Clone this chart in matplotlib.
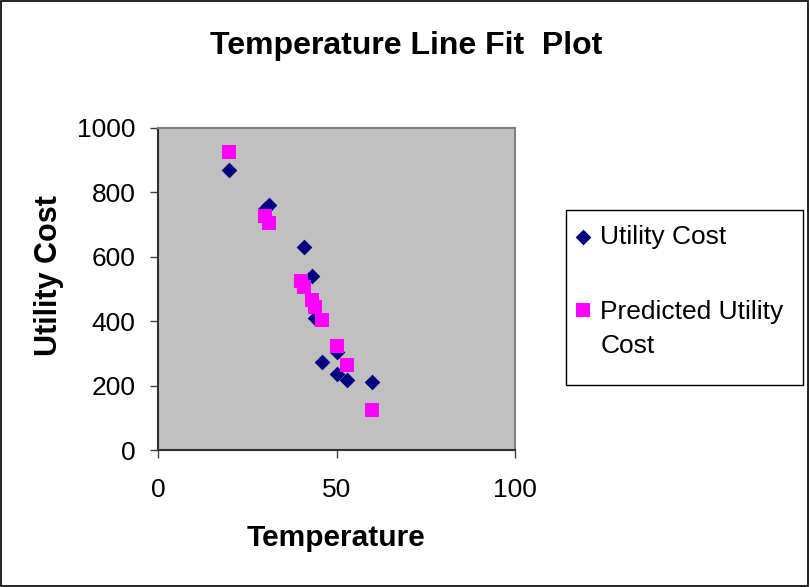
import matplotlib
matplotlib.use("Agg")
import matplotlib.pyplot as plt
from matplotlib.patches import Rectangle
from matplotlib.legend_handler import HandlerPathCollection

plt.rcParams['font.family'] = ['Liberation Sans', 'DejaVu Sans']

# Veriler
temperature = [20, 30, 31, 40, 41, 43, 44, 46, 50, 50, 53, 60]
utility_cost = [870, 750, 760, 520, 630, 541, 409, 274, 305, 238, 217, 212]
predicted_cost = [926, 726, 706, 525, 505, 465, 445, 405, 324, 324, 264, 124]

x_ticks = [0, 50, 100]
y_ticks = [0, 200, 400, 600, 800, 1000]

fig = plt.figure(figsize=(8.1, 5.87), dpi=100)
fig.patch.set_facecolor('white')
# dış çerçeve
fig.add_artist(Rectangle((0.001, 0.002), 0.997, 0.996, transform=fig.transFigure,
                         fill=False, edgecolor='black', linewidth=1.2))

ax = fig.add_axes([0.195, 0.233, 0.441, 0.549])
ax.set_facecolor('#C0C0C0')

sc1 = ax.scatter(temperature, utility_cost, marker='D', s=64, color='#000080',
                 linewidths=0, label='Utility Cost', zorder=3)
sc2 = ax.scatter(temperature, predicted_cost, marker='s', s=100, color='#FF00FF',
                 linewidths=0, label='Predicted Utility\nCost', zorder=4)

ax.set_xlim(0, 100)
ax.set_ylim(0, 1000)
ax.set_xticks(x_ticks)
ax.set_yticks(y_ticks)
ax.tick_params(axis='both', labelsize=19, length=6, width=1, color='#404040', pad=10)
ax.tick_params(axis='x', pad=14)

for side in ['top', 'right']:
    ax.spines[side].set_color('#808080')
    ax.spines[side].set_linewidth(1.5)
for side in ['left', 'bottom']:
    ax.spines[side].set_color('#303030')
    ax.spines[side].set_linewidth(1.5)

# başlık ve eksen etiketleri
fig.text(0.502, 0.922, 'Temperature Line Fit  Plot', fontsize=23, fontweight='bold',
         ha='center', va='center')
fig.text(0.415, 0.083, 'Temperature', fontsize=21.5, fontweight='bold',
         ha='center', va='center')
fig.text(0.061, 0.53, 'Utility Cost', fontsize=22, fontweight='bold',
         ha='center', va='center', rotation=90)

# lejant kutusu (Excel tarzı, altta boşluklu)
fig.add_artist(Rectangle((566 / 810, 1 - 385 / 587), 237 / 810, 175 / 587,
                         transform=fig.transFigure, fill=False,
                         edgecolor='black', linewidth=1.0))
leg = fig.legend(loc='upper left', bbox_to_anchor=(0.699, 0.635), fontsize=19,
                 frameon=False, handlelength=0.5, handletextpad=0.4, borderpad=0.4,
                 labelspacing=1.95, borderaxespad=0,
                 handler_map={sc2: HandlerPathCollection(yoffsets=[1.53])})
leg.get_texts()[1].set_linespacing(1.52)

fig.savefig('out.png', dpi=100)
